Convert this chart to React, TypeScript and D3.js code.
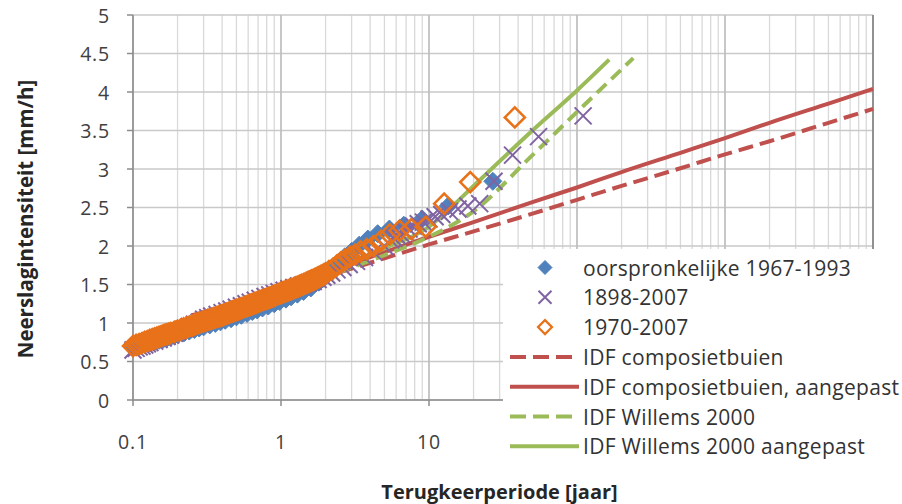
import React from "react";
import * as d3 from "d3";

// ---------- data ----------
const xTickVals = [0.1, 1, 10, 100, 1000, 10000];
const xTickLabels = ["0.1", "1", "10", "100", "1000", "10000"];
const yTickVals = [0, 0.5, 1, 1.5, 2, 2.5, 3, 3.5, 4, 4.5, 5];
const yTickLabels = ["0", "0.5", "1", "1.5", "2", "2.5", "3", "3.5", "4", "4.5", "5"];

// oorspronkelijke 1967-1993 (return period [jaar], intensity [mm/h])
const origT = [0.1, 0.11, 0.12, 0.13, 0.14, 0.15, 0.16, 0.17, 0.18, 0.19, 0.2, 0.22, 0.24, 0.26, 0.28, 0.3, 0.33, 0.36, 0.39, 0.42, 0.46, 0.5, 0.54, 0.59, 0.64, 0.69, 0.75, 0.82, 0.9, 0.98, 1.08, 1.17, 1.29, 1.42, 1.59, 1.8, 1.93, 2.08, 2.25, 2.45, 2.7, 3.0, 3.375, 3.86, 4.5, 5.4, 6.75, 9, 13.5, 27];
const origV = [0.68, 0.7, 0.72, 0.74, 0.76, 0.775, 0.79, 0.805, 0.82, 0.835, 0.85, 0.87, 0.895, 0.915, 0.935, 0.95, 0.975, 0.995, 1.015, 1.035, 1.055, 1.08, 1.1, 1.125, 1.15, 1.17, 1.195, 1.22, 1.25, 1.28, 1.31, 1.34, 1.375, 1.41, 1.455, 1.53, 1.58, 1.64, 1.71, 1.79, 1.86, 1.93, 2.01, 2.09, 2.16, 2.22, 2.27, 2.35, 2.52, 2.84];

// 1898-2007
const longT = [0.1, 0.105, 0.11, 0.115, 0.12, 0.125, 0.13, 0.14, 0.15, 0.16, 0.17, 0.18, 0.19, 0.2, 0.22, 0.24, 0.26, 0.28, 0.3, 0.32, 0.34, 0.37, 0.4, 0.43, 0.46, 0.5, 0.54, 0.58, 0.62, 0.67, 0.72, 0.78, 0.84, 0.9, 0.97, 1.05, 1.13, 1.22, 1.31, 1.41, 1.52, 1.65, 1.78, 1.92, 2.04, 2.2, 2.39, 2.62, 2.89, 3.24, 3.67, 4.23, 5.0, 5.5, 5.79, 6.11, 6.47, 6.875, 7.33, 7.86, 8.46, 9.17, 10, 11, 12.2, 13.75, 15.7, 18.3, 22, 27.5, 36.7, 55, 110];
const longV = [0.65, 0.67, 0.69, 0.7, 0.715, 0.73, 0.745, 0.765, 0.785, 0.805, 0.825, 0.845, 0.865, 0.885, 0.92, 0.955, 0.985, 1.01, 1.05, 1.07, 1.09, 1.11, 1.135, 1.155, 1.18, 1.205, 1.225, 1.25, 1.27, 1.295, 1.32, 1.345, 1.365, 1.385, 1.405, 1.425, 1.445, 1.46, 1.48, 1.495, 1.515, 1.54, 1.565, 1.595, 1.62, 1.65, 1.69, 1.72, 1.76, 1.8, 1.85, 1.92, 2.0, 2.08, 2.1, 2.13, 2.16, 2.19, 2.22, 2.26, 2.29, 2.31, 2.35, 2.38, 2.41, 2.45, 2.48, 2.52, 2.55, 2.84, 3.18, 3.42, 3.69];

// 1970-2007
const recentT = [
  0.1, 0.105, 0.11, 0.115, 0.12, 0.125, 0.13, 0.135, 0.14, 0.145, 0.15, 0.155, 0.16, 0.165, 0.17, 0.175, 0.18, 0.19, 0.2, 0.21, 0.22, 0.23, 0.24, 0.25, 0.26, 0.27, 0.28, 0.29,
  0.3, 0.31, 0.32, 0.33, 0.34, 0.35, 0.36, 0.37, 0.38, 0.39,
  0.4, 0.41, 0.42, 0.43, 0.44, 0.45, 0.46, 0.47, 0.48, 0.49,
  0.5, 0.515, 0.53, 0.545, 0.56, 0.575, 0.59, 0.605, 0.62, 0.635,
  0.65, 0.665, 0.68, 0.7, 0.72, 0.74, 0.76, 0.78, 0.8, 0.82,
  0.84, 0.86, 0.88, 0.9, 0.92, 0.945, 0.97, 0.995, 1.02, 1.045,
  1.07, 1.095, 1.12, 1.15, 1.18, 1.215, 1.25, 1.28, 1.31, 1.345,
  1.38, 1.42, 1.46, 1.49, 1.52, 1.55, 1.58, 1.615, 1.65, 1.69,
  1.73, 1.77, 1.81, 1.855, 1.9, 1.95, 2.0,
  2.11, 2.24, 2.38, 2.53, 2.71, 2.92, 3.17, 3.45, 3.8, 4.22, 4.75, 5.43, 6.33, 7.6, 9.5, 12.67, 19, 38,
];
const recentV = [
  0.7, 0.715, 0.725, 0.74, 0.755, 0.765, 0.78, 0.79, 0.8, 0.81, 0.82, 0.83, 0.84, 0.848, 0.855, 0.862, 0.87, 0.885, 0.9, 0.915, 0.93, 0.94, 0.955, 0.965, 0.98, 0.99, 1.0, 1.01,
  1.02, 1.03, 1.04, 1.048, 1.055, 1.063, 1.07, 1.078, 1.085, 1.093,
  1.1, 1.108, 1.115, 1.122, 1.13, 1.137, 1.145, 1.15, 1.155, 1.162,
  1.17, 1.178, 1.185, 1.195, 1.205, 1.212, 1.22, 1.228, 1.235, 1.243,
  1.25, 1.258, 1.265, 1.275, 1.285, 1.293, 1.3, 1.308, 1.315, 1.322,
  1.33, 1.338, 1.345, 1.352, 1.36, 1.37, 1.38, 1.388, 1.395, 1.403,
  1.41, 1.418, 1.425, 1.433, 1.44, 1.45, 1.46, 1.468, 1.475, 1.485,
  1.495, 1.505, 1.515, 1.523, 1.53, 1.538, 1.545, 1.553, 1.56, 1.57,
  1.58, 1.59, 1.6, 1.61, 1.62, 1.632, 1.645,
  1.675, 1.705, 1.745, 1.785, 1.82, 1.86, 1.89, 1.93, 1.96, 2.0, 2.07, 2.15, 2.2, 2.22, 2.25, 2.55, 2.83, 3.67,
];

// IDF curves
const idfCompT = [0.25, 0.5, 1, 2, 5, 10, 20, 50, 100, 200, 500, 1000, 2000, 5000, 10000];
const idfCompV = [1.06, 1.24, 1.42, 1.6, 1.84, 2.02, 2.19, 2.42, 2.6, 2.78, 3.01, 3.19, 3.36, 3.6, 3.78];
const idfCompAdjV = [1.1, 1.26, 1.44, 1.65, 1.92, 2.12, 2.31, 2.57, 2.76, 2.96, 3.21, 3.4, 3.6, 3.85, 4.04];

const willemsT = [1, 2, 5, 10, 20, 50, 100, 240];
const willemsV = [1.42, 1.6, 1.88, 2.12, 2.45, 3.18, 3.74, 4.44];
const willemsAdjT = [1, 2, 5, 10, 15, 20, 50, 100, 165];
const willemsAdjV = [1.45, 1.65, 1.97, 2.25, 2.55, 2.78, 3.5, 4.02, 4.42];

const legendLabels = [
  "oorspronkelijke 1967-1993",
  "1898-2007",
  "1970-2007",
  "IDF composietbuien",
  "IDF composietbuien, aangepast",
  "IDF Willems 2000",
  "IDF Willems 2000 aangepast",
];

// ---------- styling ----------
const BLUE = "#4F81BD";
const PURPLE = "#8064A2";
const ORANGE = "#E8721A";
const RED = "#C0504D";
const GREEN = "#9BBB59";
const FONT = "'Open Sans', 'DejaVu Sans', sans-serif";

const W = 902;
const H = 504;
const PL = 133, PR = 873, PT = 15, PB = 400;
const LEG_X = 503, LEG_Y = 249;

const zip = (a: number[], b: number[]) => a.map((t, i) => [t, b[i]] as [number, number]);

function Diamond({ cx, cy, s, fill, stroke, sw }: any) {
  return (
    <path
      d={`M${cx},${cy - s}L${cx + s},${cy}L${cx},${cy + s}L${cx - s},${cy}Z`}
      fill={fill}
      stroke={stroke}
      strokeWidth={sw}
    />
  );
}

function Cross({ cx, cy, s, color }: any) {
  return (
    <path
      d={`M${cx - s},${cy - s}L${cx + s},${cy + s}M${cx - s},${cy + s}L${cx + s},${cy - s}`}
      stroke={color}
      strokeWidth={2}
      fill="none"
    />
  );
}

export default function App() {
  const x = d3.scaleLog().domain([0.1, 10000]).range([PL, PR]);
  const y = d3.scaleLinear().domain([0, 5]).range([PB, PT]);
  const line = d3
    .line<[number, number]>()
    .x((d) => x(d[0]))
    .y((d) => y(d[1]))
    .curve(d3.curveMonotoneX);

  const minorTicks = x.ticks();
  const orig = zip(origT, origV);
  const long = zip(longT, longV);
  const recent = zip(recentT, recentV);

  const legendRowY = (i: number) => 267.5 + i * 29.8;
  const LX0 = 510, LX1 = 579, LMX = 545, LTX = 583;

  return (
    <svg
      width={W}
      height={H}
      style={{ position: "absolute", left: 0, top: 0, background: "#fff" }}
      fontFamily={FONT}
    >
      <rect x={0} y={0} width={W} height={H} fill="#fff" />
      {/* minor vertical grid */}
      {minorTicks.map((t, i) => (
        <line key={"mv" + i} x1={x(t)} x2={x(t)} y1={PT} y2={PB} stroke="#d9d9d9" strokeWidth={1.3} />
      ))}
      {/* horizontal grid */}
      {yTickVals.map((v, i) => (
        <line key={"hg" + i} x1={PL} x2={PR} y1={y(v)} y2={y(v)} stroke="#c9c9c9" strokeWidth={1.5} />
      ))}
      {/* major vertical grid */}
      {xTickVals.map((t, i) => (
        <line key={"Mv" + i} x1={x(t)} x2={x(t)} y1={PT} y2={PB} stroke="#bcbcbc" strokeWidth={1.5} />
      ))}
      {/* right border */}
      <line x1={PR} x2={PR} y1={PT} y2={PB} stroke="#7f7f7f" strokeWidth={1.5} />
      {/* axes */}
      <line x1={PL} x2={PL} y1={PT} y2={PB + 0.75} stroke="#8c8c8c" strokeWidth={1.5} />
      <line x1={PL} x2={PR} y1={PB} y2={PB} stroke="#8c8c8c" strokeWidth={1.5} />
      {yTickVals.map((v, i) => (
        <line key={"yt" + i} x1={PL - 6} x2={PL} y1={y(v)} y2={y(v)} stroke="#8c8c8c" strokeWidth={1.5} />
      ))}
      {xTickVals.map((t, i) => (
        <line key={"xt" + i} x1={x(t)} x2={x(t)} y1={PB} y2={PB + 6} stroke="#8c8c8c" strokeWidth={1.5} />
      ))}
      {/* tick labels */}
      {yTickVals.map((v, i) => (
        <text key={"yl" + i} x={110} y={y(v)} textAnchor="end" dominantBaseline="central" fontSize={19.5} letterSpacing={0.8} fill="#404040">
          {yTickLabels[i]}
        </text>
      ))}
      {xTickVals
        .map((t, i) => ({ t, label: xTickLabels[i] }))
        .filter((d) => x(d.t) < LEG_X)
        .map((d, i) => (
          <text key={"xl" + i} x={x(d.t)} y={441} textAnchor="middle" dominantBaseline="central" fontSize={19.5} letterSpacing={0.8} fill="#404040">
            {d.label}
          </text>
        ))}

      {/* IDF lines */}
      <path d={line(zip(idfCompT, idfCompV)) || ""} fill="none" stroke={RED} strokeWidth={4} strokeDasharray="15 7" />
      <path d={line(zip(idfCompT, idfCompAdjV)) || ""} fill="none" stroke={RED} strokeWidth={4} />
      <path d={line(zip(willemsT, willemsV)) || ""} fill="none" stroke={GREEN} strokeWidth={4} strokeDasharray="13 7" />
      <path d={line(zip(willemsAdjT, willemsAdjV)) || ""} fill="none" stroke={GREEN} strokeWidth={4} />

      {/* scatter series */}
      {orig.map((d, i) => (
        <Diamond key={"o" + i} cx={x(d[0])} cy={y(d[1])} s={9} fill={BLUE} stroke={BLUE} sw={1} />
      ))}
      {long.map((d, i) => (
        <Cross key={"l" + i} cx={x(d[0])} cy={y(d[1])} s={8.5} color={PURPLE} />
      ))}
      {recent.map((d, i) => (
        <Diamond key={"r" + i} cx={x(d[0])} cy={y(d[1])} s={10} fill="none" stroke={ORANGE} sw={2.6} />
      ))}

      {/* legend */}
      <rect x={LEG_X} y={LEG_Y} width={W - LEG_X} height={217} fill="#fff" />
      <Diamond cx={LMX} cy={legendRowY(0)} s={7} fill={BLUE} stroke={BLUE} sw={1} />
      <Cross cx={LMX} cy={legendRowY(1)} s={6.5} color={PURPLE} />
      <Diamond cx={LMX} cy={legendRowY(2)} s={7} fill="none" stroke={ORANGE} sw={2.2} />
      <line x1={LX0} x2={LX1 - 6} y1={legendRowY(3)} y2={legendRowY(3)} stroke={RED} strokeWidth={4} strokeDasharray="16 7" />
      <line x1={LX0} x2={LX1} y1={legendRowY(4)} y2={legendRowY(4)} stroke={RED} strokeWidth={4} />
      <line x1={LX0} x2={LX1 - 6} y1={legendRowY(5)} y2={legendRowY(5)} stroke={GREEN} strokeWidth={4} strokeDasharray="16 7" />
      <line x1={LX0} x2={LX1} y1={legendRowY(6)} y2={legendRowY(6)} stroke={GREEN} strokeWidth={4} />
      {legendLabels.map((s, i) => (
        <text key={"lg" + i} x={LTX} y={legendRowY(i)} dominantBaseline="central" fontSize={21} letterSpacing={0.3} fill="#333">
          {s}
        </text>
      ))}

      {/* axis titles */}
      <text
        transform={`translate(25,219) rotate(-90)`}
        textAnchor="middle"
        dominantBaseline="central"
        fontSize={20.5}
        fontWeight="bold"
        fill="#262626"
      >
        Neerslagintensiteit [mm/h]
      </text>
      <text x={499.5} y={491} textAnchor="middle" dominantBaseline="central" fontSize={20} fontWeight="bold" fill="#262626">
        Terugkeerperiode [jaar]
      </text>
    </svg>
  );
}
